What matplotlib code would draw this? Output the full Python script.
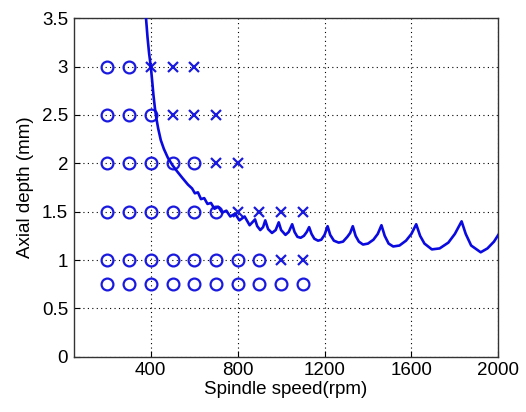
import matplotlib
matplotlib.use("Agg")
import matplotlib.pyplot as plt

# Stability lobe boundary
lobe_speed = [378, 385, 392, 400, 406, 412, 419, 426, 434, 446, 460, 478, 500, 520, 545, 571, 590,
              603, 617, 631, 646, 661, 677, 693, 711, 728, 748, 766, 788, 808, 832, 855,
              880, 890, 904, 917, 927, 940, 958, 975, 989, 1000, 1020, 1035, 1051,
              1062, 1075, 1090, 1105, 1118, 1129, 1140, 1153, 1170, 1185, 1200, 1214,
              1226, 1243, 1265, 1285, 1305, 1318, 1330, 1343, 1358, 1377, 1400, 1425, 1445, 1462,
              1477, 1495, 1516, 1545, 1575, 1600, 1622, 1640, 1660, 1694, 1730, 1770, 1800, 1831,
              1850, 1875, 1919, 1950, 1980, 2000]
lobe_depth = [3.5, 3.3, 3.14, 3.0, 2.86, 2.71, 2.57, 2.46, 2.36, 2.24, 2.15, 2.06, 1.98, 1.92, 1.85, 1.78, 1.74,
              1.69, 1.70, 1.63, 1.64, 1.58, 1.59, 1.53, 1.55, 1.49, 1.51, 1.45, 1.48, 1.41, 1.45, 1.36,
              1.42, 1.35, 1.31, 1.34, 1.41, 1.32, 1.28, 1.31, 1.39, 1.31, 1.26, 1.29, 1.37,
              1.29, 1.24, 1.23, 1.25, 1.29, 1.34, 1.27, 1.22, 1.20, 1.21, 1.26, 1.35,
              1.26, 1.20, 1.18, 1.19, 1.24, 1.28, 1.35, 1.25, 1.19, 1.16, 1.17, 1.21, 1.27, 1.36,
              1.25, 1.17, 1.14, 1.15, 1.20, 1.27, 1.37, 1.25, 1.17, 1.11, 1.12, 1.18, 1.27, 1.40,
              1.27, 1.15, 1.08, 1.12, 1.19, 1.26]

# Stable cutting tests (circles)
stable_speed = [200, 300,
                200, 300, 400,
                200, 300, 400, 500, 600,
                200, 300, 400, 500, 600, 700,
                200, 300, 400, 500, 600, 700, 800, 900,
                200, 300, 400, 500, 600, 700, 800, 900, 1000, 1100]
stable_depth = [3, 3,
                2.5, 2.5, 2.5,
                2, 2, 2, 2, 2,
                1.5, 1.5, 1.5, 1.5, 1.5, 1.5,
                1, 1, 1, 1, 1, 1, 1, 1,
                0.75, 0.75, 0.75, 0.75, 0.75, 0.75, 0.75, 0.75, 0.75, 0.75]

# Chatter tests (crosses)
chatter_speed = [400, 500, 600,
                 500, 600, 700,
                 700, 800,
                 800, 900, 1000, 1100,
                 1000, 1100]
chatter_depth = [3, 3, 3,
                 2.5, 2.5, 2.5,
                 2, 2,
                 1.5, 1.5, 1.5, 1.5,
                 1, 1]

x_ticks = [400, 800, 1200, 1600, 2000]
y_ticks = [0, 0.5, 1, 1.5, 2, 2.5, 3, 3.5]
y_tick_labels = ["0", "0.5", "1", "1.5", "2", "2.5", "3", "3.5"]

plt.rcParams['font.family'] = ['Liberation Sans', 'DejaVu Sans']

fig = plt.figure(figsize=(5.26, 4.12), dpi=100)
ax = fig.add_axes([73.7 / 526, (412 - 356.7) / 412, (498.3 - 73.7) / 526, (356.7 - 18.3) / 412])

ax.plot(stable_speed, stable_depth, linestyle='none', marker='o', ms=8.5,
        mfc='none', mec='#1a1adf', mew=1.6, zorder=3)
ax.plot(chatter_speed, chatter_depth, linestyle='none', marker='x', ms=7.5,
        mec='#1a1adf', mew=1.6, zorder=3)
ax.plot(lobe_speed, lobe_depth, color='#0a0ae0', lw=1.9, zorder=4)

ax.set_xlim(45, 2000)
ax.set_ylim(0, 3.5)
ax.set_xticks(x_ticks)
ax.set_xticklabels([str(v) for v in x_ticks])
ax.set_yticks(y_ticks)
ax.set_yticklabels(y_tick_labels)
ax.grid(True, color='black', linestyle=(0, (1, 3)), linewidth=0.8)
ax.set_axisbelow(True)
ax.tick_params(direction='in', length=4, labelsize=13.5, pad=4, colors='black')
for s in ax.spines.values():
    s.set_linewidth(1.0)
    s.set_color('#333333')

ax.set_xlabel('Spindle speed(rpm)', fontsize=13.5, labelpad=1)
ax.set_ylabel('Axial depth (mm)', fontsize=13.5, labelpad=6)

fig.savefig('out.png', dpi=100)
